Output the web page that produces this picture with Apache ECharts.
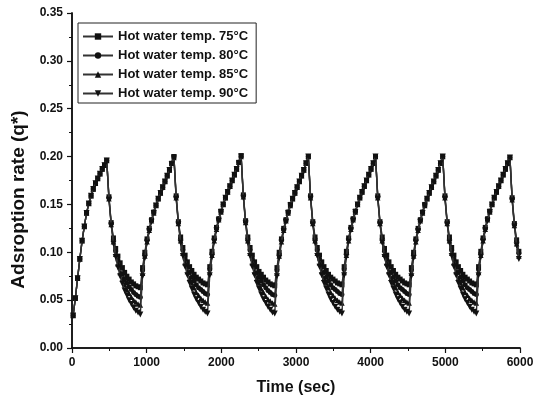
<!DOCTYPE html>
<html>
<head>
<meta charset="utf-8">
<script src="https://cdn.jsdelivr.net/npm/echarts@6/dist/echarts.min.js"></script>
<style>html,body{margin:0;padding:0;background:#fff;}#c{width:546px;height:401px;}</style>
</head>
<body>
<div id="c"></div>
<script>
// Sampling grid (seconds): first sample at 15 s, one sample every 30 s
const sampleStart = 15;
const sampleStep = 30;

const seriesNames = [
  'Hot water temp. 75°C',
  'Hot water temp. 80°C',
  'Hot water temp. 85°C',
  'Hot water temp. 90°C'
];

const xTicks = [0, 1000, 2000, 3000, 4000, 5000, 6000];
const yTicks = [0.00, 0.05, 0.10, 0.15, 0.20, 0.25, 0.30, 0.35];

const temp75 = [
0.034,0.052,0.073,0.093,0.112,0.127,0.141,0.151,0.159,0.166,0.172,0.177,0.182,0.187,0.191,0.196,
0.158,0.131,0.115,0.104,0.096,0.089,0.084,0.079,0.075,0.072,0.069,0.067,0.065,0.064,0.063,
0.084,0.100,0.114,0.125,0.134,0.142,0.149,0.156,0.162,0.168,0.174,0.180,0.186,0.193,0.200,
0.159,0.132,0.116,0.105,0.097,0.090,0.085,0.081,0.077,0.074,0.072,0.070,0.068,0.067,0.066,
0.085,0.101,0.115,0.126,0.135,0.143,0.150,0.157,0.163,0.169,0.175,0.181,0.187,0.194,0.201,
0.160,0.133,0.116,0.105,0.097,0.090,0.085,0.080,0.077,0.074,0.071,0.069,0.067,0.066,0.065,
0.084,0.100,0.114,0.125,0.134,0.142,0.150,0.156,0.162,0.168,0.174,0.180,0.186,0.193,0.200,
0.159,0.132,0.116,0.105,0.097,0.090,0.085,0.081,0.077,0.074,0.072,0.070,0.068,0.067,0.066,
0.085,0.101,0.115,0.126,0.135,0.143,0.150,0.157,0.163,0.169,0.175,0.181,0.187,0.193,0.200,
0.159,0.132,0.116,0.104,0.097,0.090,0.085,0.081,0.077,0.074,0.072,0.070,0.068,0.067,0.066,
0.084,0.100,0.114,0.125,0.134,0.142,0.150,0.156,0.162,0.168,0.174,0.180,0.186,0.193,0.200,
0.159,0.132,0.116,0.105,0.097,0.090,0.085,0.081,0.077,0.074,0.072,0.070,0.068,0.067,0.066,
0.085,0.101,0.115,0.126,0.135,0.143,0.150,0.157,0.163,0.169,0.175,0.181,0.187,0.193,0.199,
0.157,0.130,0.113,0.101
];

const temp80 = [
0.034,0.052,0.073,0.093,0.112,0.127,0.141,0.151,0.159,0.166,0.172,0.177,0.182,0.187,0.191,0.196,
0.157,0.130,0.113,0.101,0.092,0.084,0.077,0.072,0.068,0.064,0.061,0.058,0.056,0.054,0.053,
0.081,0.098,0.113,0.124,0.134,0.142,0.149,0.156,0.162,0.168,0.174,0.180,0.186,0.193,0.200,
0.158,0.131,0.114,0.102,0.093,0.085,0.079,0.074,0.070,0.066,0.063,0.061,0.059,0.057,0.056,
0.082,0.099,0.114,0.125,0.135,0.143,0.150,0.157,0.163,0.169,0.175,0.181,0.187,0.194,0.200,
0.159,0.132,0.114,0.102,0.093,0.085,0.078,0.074,0.070,0.066,0.063,0.060,0.058,0.056,0.055,
0.081,0.098,0.113,0.124,0.134,0.142,0.150,0.156,0.162,0.168,0.174,0.180,0.186,0.193,0.200,
0.158,0.131,0.114,0.102,0.093,0.085,0.079,0.074,0.070,0.066,0.063,0.061,0.059,0.057,0.056,
0.082,0.099,0.114,0.125,0.135,0.143,0.150,0.157,0.163,0.169,0.175,0.181,0.187,0.193,0.200,
0.158,0.131,0.114,0.101,0.093,0.085,0.079,0.074,0.070,0.066,0.063,0.061,0.059,0.057,0.056,
0.081,0.098,0.113,0.124,0.134,0.142,0.150,0.156,0.162,0.168,0.174,0.180,0.186,0.193,0.200,
0.158,0.131,0.114,0.102,0.093,0.085,0.079,0.074,0.070,0.066,0.063,0.061,0.059,0.057,0.056,
0.082,0.099,0.114,0.125,0.135,0.143,0.150,0.157,0.163,0.169,0.175,0.181,0.187,0.193,0.199,
0.156,0.129,0.111,0.099
];

const temp85 = [
0.034,0.052,0.073,0.093,0.112,0.127,0.141,0.151,0.159,0.166,0.172,0.177,0.182,0.187,0.191,0.196,
0.156,0.129,0.111,0.098,0.088,0.079,0.072,0.066,0.061,0.057,0.053,0.050,0.048,0.046,0.045,
0.078,0.096,0.111,0.123,0.133,0.141,0.149,0.156,0.162,0.168,0.174,0.180,0.186,0.193,0.199,
0.157,0.130,0.112,0.099,0.089,0.080,0.073,0.068,0.063,0.058,0.055,0.052,0.050,0.048,0.047,
0.079,0.097,0.112,0.124,0.134,0.142,0.150,0.157,0.163,0.169,0.175,0.181,0.187,0.194,0.200,
0.158,0.131,0.112,0.099,0.089,0.080,0.073,0.068,0.062,0.058,0.054,0.051,0.049,0.047,0.046,
0.078,0.096,0.111,0.123,0.133,0.141,0.149,0.156,0.162,0.168,0.174,0.180,0.186,0.193,0.200,
0.157,0.130,0.112,0.099,0.089,0.080,0.073,0.068,0.063,0.058,0.055,0.052,0.050,0.048,0.047,
0.079,0.097,0.112,0.124,0.134,0.142,0.150,0.157,0.163,0.169,0.175,0.181,0.187,0.193,0.200,
0.157,0.130,0.112,0.098,0.089,0.080,0.073,0.068,0.063,0.058,0.055,0.052,0.050,0.048,0.047,
0.078,0.096,0.111,0.123,0.133,0.141,0.149,0.156,0.162,0.168,0.174,0.180,0.186,0.193,0.200,
0.157,0.130,0.112,0.099,0.089,0.080,0.073,0.068,0.063,0.058,0.055,0.052,0.050,0.048,0.047,
0.079,0.097,0.112,0.124,0.134,0.142,0.150,0.157,0.163,0.169,0.175,0.181,0.187,0.193,0.199,
0.155,0.128,0.109,0.096
];

const temp90 = [
0.034,0.052,0.073,0.093,0.112,0.127,0.141,0.151,0.159,0.166,0.172,0.177,0.182,0.187,0.191,0.196,
0.155,0.128,0.109,0.095,0.084,0.075,0.067,0.060,0.055,0.050,0.046,0.042,0.039,0.037,0.035,
0.075,0.094,0.110,0.122,0.132,0.141,0.149,0.156,0.162,0.168,0.174,0.180,0.186,0.192,0.199,
0.156,0.129,0.110,0.096,0.085,0.076,0.068,0.062,0.056,0.051,0.047,0.043,0.040,0.038,0.036,
0.076,0.095,0.111,0.123,0.133,0.142,0.150,0.157,0.163,0.169,0.175,0.181,0.187,0.193,0.200,
0.157,0.130,0.110,0.096,0.085,0.076,0.068,0.062,0.056,0.051,0.047,0.043,0.040,0.037,0.036,
0.075,0.094,0.110,0.122,0.132,0.141,0.149,0.156,0.162,0.168,0.174,0.180,0.186,0.193,0.200,
0.156,0.129,0.110,0.096,0.085,0.076,0.068,0.062,0.056,0.051,0.047,0.043,0.040,0.038,0.036,
0.076,0.095,0.111,0.123,0.133,0.142,0.150,0.157,0.163,0.169,0.175,0.181,0.187,0.193,0.200,
0.156,0.129,0.110,0.095,0.085,0.076,0.068,0.062,0.056,0.051,0.047,0.043,0.040,0.038,0.036,
0.075,0.094,0.110,0.122,0.132,0.141,0.149,0.156,0.162,0.168,0.174,0.180,0.186,0.193,0.200,
0.156,0.129,0.110,0.096,0.085,0.076,0.068,0.062,0.056,0.051,0.047,0.043,0.040,0.038,0.036,
0.076,0.095,0.111,0.123,0.133,0.142,0.150,0.157,0.163,0.169,0.175,0.181,0.187,0.193,0.199,
0.154,0.127,0.107,0.093
];

const allValues = [temp75, temp80, temp85, temp90];
const times = temp75.map((_, i) => sampleStart + i * sampleStep);

const symbols = ['rect', 'circle', 'triangle', 'triangle'];
const symbolRotates = [0, 0, 0, 180];
const symbolSizes = [5, 5, 5.5, 6];

const FONT = '"Liberation Sans", Arial, sans-serif';

const chart = echarts.init(document.getElementById('c'), null, {renderer: 'canvas'});

const series = allValues.map((vals, k) => ({
  name: seriesNames[k],
  type: 'line',
  xAxisIndex: 0,
  yAxisIndex: 0,
  data: vals.map((v, i) => [times[i], v]),
  symbol: symbols[k],
  symbolRotate: symbolRotates[k],
  symbolSize: symbolSizes[k],
  showAllSymbol: true,
  itemStyle: {color: '#111'},
  lineStyle: {color: '#333', width: 1.4},
  z: 2 + k
}));

chart.setOption({
  animation: false,
  backgroundColor: '#fff',
  grid: {left: 72, right: 26, top: 13, bottom: 50, containLabel: false},
  legend: {
    data: seriesNames,
    orient: 'vertical',
    left: 78, top: 23,
    itemWidth: 30, itemHeight: 8, itemGap: 6,
    padding: [7, 8, 3, 4],
    borderColor: '#222', borderWidth: 1,
    backgroundColor: '#fff',
    textStyle: {fontFamily: FONT, fontWeight: 'bold', fontSize: 13, color: '#111'}
  },
  xAxis: [{
    type: 'value', min: 0, max: 6000, interval: 1000,
    name: 'Time (sec)', nameLocation: 'middle', nameGap: 32,
    nameTextStyle: {fontFamily: FONT, fontWeight: 'bold', fontSize: 16, color: '#111'},
    axisLine: {show: true, lineStyle: {color: '#111', width: 1.5}},
    axisTick: {show: true, inside: false, length: 5, lineStyle: {color: '#111', width: 1.2}},
    minorTick: {show: true, splitNumber: 2, length: 3, lineStyle: {color: '#111', width: 1}},
    axisLabel: {fontFamily: FONT, fontWeight: 'bold', fontSize: 12, color: '#111', margin: 9,
      formatter: v => xTicks.includes(v) ? String(v) : ''},
    splitLine: {show: false}
  }, {
    type: 'value', min: 0, max: 6000, interval: 1000, position: 'top',
    axisLine: {show: true, lineStyle: {color: '#111', width: 1.5}},
    axisTick: {show: true, inside: true, length: 5, lineStyle: {color: '#111'}},
    minorTick: {show: true, splitNumber: 2, length: 3, lineStyle: {color: '#111'}},
    axisLabel: {show: false}, splitLine: {show: false}
  }],
  yAxis: [{
    type: 'value', min: 0, max: 0.35, interval: 0.05,
    name: 'Adsroption rate (q*)', nameLocation: 'middle', nameGap: 44,
    nameTextStyle: {fontFamily: FONT, fontWeight: 'bold', fontSize: 19, color: '#111', padding: [0, 38, 0, 0]},
    axisLine: {show: true, lineStyle: {color: '#111', width: 1.5}},
    axisTick: {show: true, inside: false, length: 5, lineStyle: {color: '#111', width: 1.2}},
    minorTick: {show: true, splitNumber: 2, length: 3, lineStyle: {color: '#111', width: 1}},
    axisLabel: {fontFamily: FONT, fontWeight: 'bold', fontSize: 12, color: '#111', margin: 9,
      formatter: v => v.toFixed(2)},
    splitLine: {show: false}
  }, {
    type: 'value', min: 0, max: 0.35, interval: 0.05, position: 'right',
    axisLine: {show: true, lineStyle: {color: '#111', width: 1.5}},
    axisTick: {show: true, inside: true, length: 5, lineStyle: {color: '#111'}},
    minorTick: {show: true, splitNumber: 2, length: 3, lineStyle: {color: '#111'}},
    axisLabel: {show: false}, splitLine: {show: false}
  }],
  series: series
});
</script>
</body>
</html>
